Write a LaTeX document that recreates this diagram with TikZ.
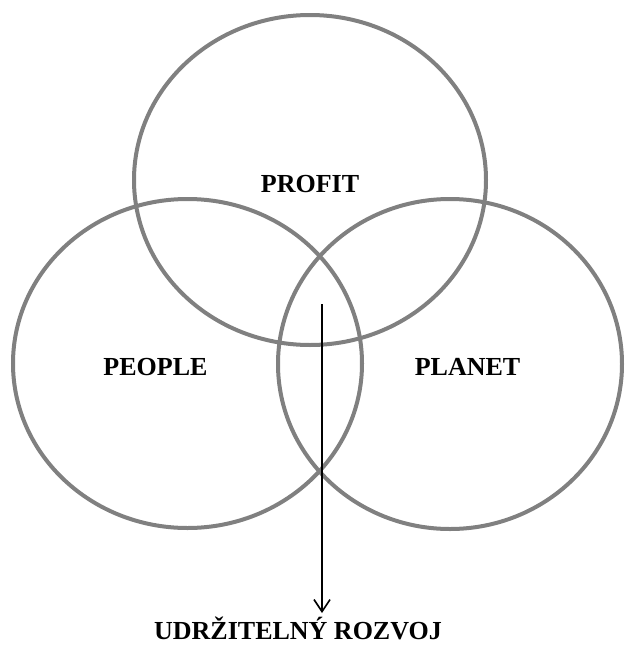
\documentclass[tikz,border=0pt]{standalone}
\usepackage{fontspec}
\setmainfont{Liberation Serif}
\usetikzlibrary{arrows.meta}
\begin{document}
\begin{tikzpicture}[x=1pt,y=-1pt,
  ring/.style={draw=black!50, line width=4pt},
  lbl/.style={font=\bfseries\fontsize{26}{30}\selectfont, inner sep=0pt, anchor=base},
  conn/.style={draw=black, line width=1.6pt, -{Straight Barb[length=12pt,width=16pt,line width=1.6pt]}}]
\useasboundingbox (0,0) rectangle (625,651);
\draw[ring] (310,180) ellipse [x radius=176, y radius=165];
\draw[ring] (187.5,363.5) ellipse [x radius=174.5, y radius=164.5];
\draw[ring] (450,364) ellipse [x radius=172, y radius=165];
\node[lbl] (profit) at (310,192) {PROFIT};
\node[lbl] (people) at (155.5,375.5) {PEOPLE};
\node[lbl] (planet) at (467.5,375.5) {PLANET};
\node[lbl] (ur) at (298,639) {UDRŽITELNÝ ROZVOJ};
\coordinate (start) at (322,304);
\coordinate (tip) at (322,613);
\draw[conn] (start) -- (tip);
\end{tikzpicture}
\end{document}
